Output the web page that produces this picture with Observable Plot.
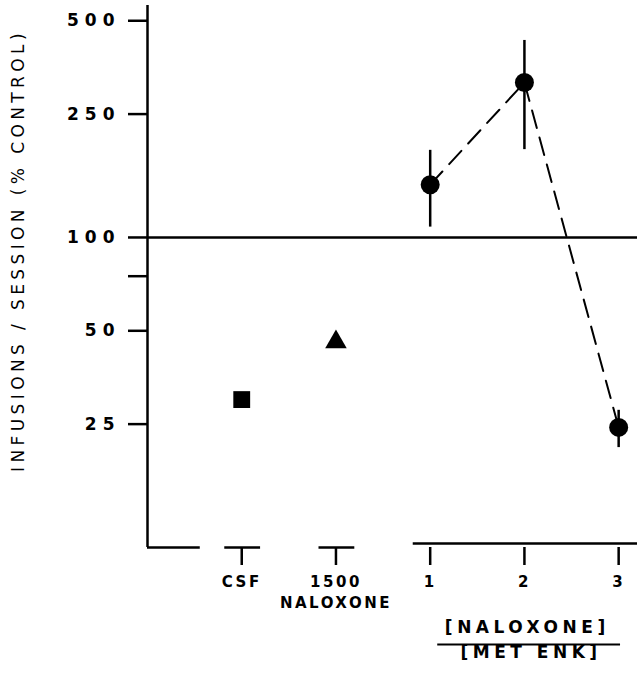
<!DOCTYPE html>
<html><head><meta charset="utf-8">
<script src="https://cdn.jsdelivr.net/npm/d3@7"></script>
<script src="https://cdn.jsdelivr.net/npm/@observablehq/plot@0.6"></script>
<style>
body{margin:0;background:#fff;}
svg text{font-family:"DejaVu Sans",sans-serif;}
g[aria-label="y-axis tick label"] text{font-weight:bold;letter-spacing:6px;font-size:17px;}
g[aria-label="x-axis tick label"] text{font-weight:bold;letter-spacing:2.5px;font-size:15px;}
</style></head><body><div id="chart"></div>
<script>
// categories on the x axis (index = position)
const groups = ["CSF", "1500\nNALOXONE", "1", "2", "3"];
// single-condition controls
const conditionValues = [30, 46];          // CSF (square), 1500 naloxone (triangle)
// naloxone / met-enk ratio series
const ratios = [1, 2, 3];
const ratioMeans = [148, 316, 24.4];
const ratioLow = [108, 192, 21];
const ratioHigh = [191, 432, 27.7];
// axis ticks and texts
const yTicks = [25, 50, 75, 100, 250, 500];
const yTitle = "INFUSIONS / SESSION (% CONTROL)";
const ratioTitle = ["[NALOXONE]", "[MET ENK]"];
const controlLevel = 100;

const ratioData = ratios.map((r, i) => ({pos: r + 1, mean: ratioMeans[i], lo: ratioLow[i], hi: ratioHigh[i]}));
const condData = conditionValues.map((v, i) => ({pos: i, v}));
const yMin = 10, yMax = 560;

const chart = Plot.plot({
  width: 639, height: 677,
  marginLeft: 147, marginRight: 2, marginTop: 5, marginBottom: 130,
  style: {fontFamily: "DejaVu Sans, sans-serif", fontSize: "16px", color: "#000", background: "#fff"},
  x: {domain: [-1, 4.2], axis: null},
  y: {type: "log", domain: [yMin, yMax], axis: null},
  marks: [
    // y axis line
    Plot.ruleX([-1], {y1: yMin, y2: yMax, strokeWidth: 2.5}),
    Plot.axisY({ticks: yTicks, tickFormat: d => String(d), tickSize: 19, tickPadding: 8, strokeWidth: 2.5, label: null}),
    Plot.text([yTitle], {frameAnchor: "left", textAnchor: "middle", rotate: -90, dx: -129, dy: -26, fontSize: 17, fill: "#000"}),
    // broken x axis segments
    Plot.ruleY([yMin], {x1: -1, x2: -0.44, strokeWidth: 2.5}),
    Plot.ruleY(condData, {y: () => yMin, x1: d => d.pos - 0.18, x2: d => d.pos + 0.2, strokeWidth: 2.5}),
    Plot.ruleY([yMin], {x1: ratios[0] + 1 - 0.18, x2: 4.2, strokeWidth: 2.5, dy: -4}),
    Plot.axisX({ticks: groups.map((g, i) => i), tickFormat: i => groups[i], tickSize: 18, tickPadding: 7, strokeWidth: 2.5, lineHeight: 1.4, label: null}),
    // control level
    Plot.ruleY([controlLevel], {strokeWidth: 2.5}),
    // ratio series
    Plot.ruleX(ratioData, {x: "pos", y1: "lo", y2: "hi", strokeWidth: 2.5}),
    Plot.line(ratioData, {x: "pos", y: "mean", strokeWidth: 2, strokeDasharray: "18,10"}),
    Plot.dot(ratioData, {x: "pos", y: "mean", r: 9.5, fill: "#000", stroke: "none"}),
    // conditions
    Plot.dot(condData.slice(0, 1), {x: "pos", y: "v", symbol: "square", r: 9.5, fill: "#000", stroke: "none"}),
    Plot.dot(condData.slice(1, 2), {x: "pos", y: "v", symbol: "triangle", r: 8, fill: "#000", stroke: "none"}),
    // ratio axis title (fraction)
    Plot.text(ratioTitle.slice(0, 1), {x: 3.03, frameAnchor: "bottom", dy: 85, fontSize: 17, fontWeight: "bold", fill: "#000"}),
    Plot.ruleY([yMin], {x1: ratios[0] + 1.08, x2: ratios[2] + 1.02, dy: 97, strokeWidth: 2}),
    Plot.text(ratioTitle.slice(1, 2), {x: 3.07, frameAnchor: "bottom", dy: 110, fontSize: 17, fontWeight: "bold", fill: "#000"})
  ]
});
// letter spacing for the hand-lettered look
d3.select(chart).selectAll("text").each(function () {
  const t = this.textContent;
  if (t === yTitle) this.style.letterSpacing = "4.4px";
  else if (ratioTitle.includes(t)) this.style.letterSpacing = "4.5px";
});
document.getElementById("chart").appendChild(chart);
</script></body></html>
